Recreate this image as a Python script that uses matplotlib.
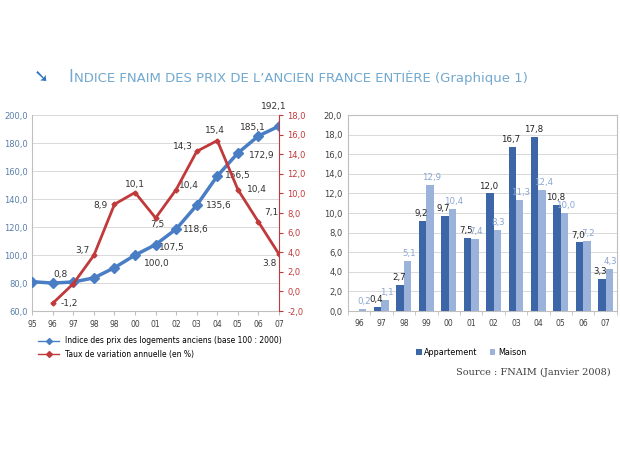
import matplotlib.pyplot as plt
import numpy as np

# Données
annees_g = ["95", "96", "97", "98", "98", "00", "01", "02", "03", "04", "05", "06", "07"]
indice = [81.0, 80.0, 80.8, 83.7, 91.0, 100.0, 107.5, 118.6, 135.6, 156.5, 172.9, 185.1, 192.1]
taux = [None, -1.2, 0.8, 3.7, 8.9, 10.1, 7.5, 10.4, 14.3, 15.4, 10.4, 7.1, 3.8]
taux_lbl = ["", "-1,2", "0,8", "3,7", "8,9", "10,1", "7,5", "10,4", "14,3", "15,4", "10,4", "7,1", "3.8"]

annees_d = ["96", "97", "98", "99", "00", "01", "02", "03", "04", "05", "06", "07"]
appart = [0.0, 0.4, 2.7, 9.2, 9.7, 7.5, 12.0, 16.7, 17.8, 10.8, 7.0, 3.3]
maison = [0.2, 1.1, 5.1, 12.9, 10.4, 7.4, 8.3, 11.3, 12.4, 10.0, 7.2, 4.3]

BLEU = "#4A7EC4"
ROUGE = "#C0393B"
FONCE = "#3D66A8"
CLAIR = "#9BB3DA"
GRIS = "#BFBFBF"

fig = plt.figure(figsize=(6.2, 4.65), dpi=100)
fig.patch.set_facecolor("white")

# Titre
fig.text(0.055, 0.835, "\u2798", fontsize=13, color="#2F74C0", fontweight="bold",
         ha="left", va="center")
fig.text(0.11, 0.835, "I", fontsize=12, color="#72A9CF", ha="left", va="center")
fig.text(0.119, 0.833, "NDICE FNAIM DES PRIX DE L\u2019ANCIEN FRANCE ENTI\u00c8RE (Graphique 1)",
         fontsize=9.5, color="#72A9CF", ha="left", va="center")

# ---- Graphique de gauche ----
ax1 = fig.add_axes([0.052, 0.331, 0.398, 0.4215])
x = np.arange(len(annees_g))
ax1.plot(x, indice, color=BLEU, lw=2.5, marker="D", ms=5, zorder=3)
ax1.set_xlim(0, 12)
ax1.set_ylim(60, 200)
ax1.set_yticks(np.arange(60, 201, 20))
ax1.set_yticklabels([f"{v:.1f}".replace(".", ",") for v in range(60, 201, 20)])
ax1.tick_params(axis="y", labelsize=6, colors="#5A7FA8", length=0, pad=3)
ax1.set_xticks(x)
ax1.set_xticklabels(annees_g)
ax1.tick_params(axis="x", labelsize=5.5, colors="#404040", length=3, color=GRIS)
ax1.grid(axis="y", color="#D9D9D9", lw=0.7)
for s in ["top", "right"]:
    ax1.spines[s].set_visible(False)
ax1.spines["left"].set_color(GRIS)
ax1.spines["bottom"].set_color(GRIS)

# décalages des étiquettes (points)
off_b = {5: (16, -6), 6: (12, -2), 7: (14, 0), 8: (16, 0), 9: (15, 0),
         10: (17, -2), 11: (-4, 6), 12: (-4, 14)}
for i, (dx, dy) in off_b.items():
    ax1.annotate(f"{indice[i]:.1f}".replace(".", ","), (x[i], indice[i]),
                 xytext=(dx, dy), textcoords="offset points", fontsize=6.5,
                 color="#333333", ha="center", va="center", zorder=2)

ax2 = ax1.twinx()
xr = x[1:]
ax2.plot(xr, taux[1:], color=ROUGE, lw=2, marker="D", ms=2.5, zorder=4)
ax2.set_ylim(-2, 18)
ax2.set_yticks(np.arange(-2, 19, 2))
ax2.set_yticklabels([f"{v:.1f}".replace(".", ",") for v in range(-2, 19, 2)])
ax2.tick_params(axis="y", labelsize=6, colors=ROUGE, length=3, color=ROUGE, pad=3)
for s in ["top", "left", "bottom"]:
    ax2.spines[s].set_visible(False)
ax2.spines["right"].set_color(ROUGE)

off_r = {1: (12, 0), 2: (-9, 6.5), 3: (-8, 3.5), 4: (-10, -1), 5: (0, 6), 6: (1, -5),
         7: (9, 3), 8: (-10, 3.5), 9: (-2, 7), 10: (14, 0), 11: (9, 6.5), 12: (-7, -6.5)}
for i, (dx, dy) in off_r.items():
    ax2.annotate(taux_lbl[i], (x[i], taux[i]), xytext=(dx, dy),
                 textcoords="offset points", fontsize=6.5, color="#333333",
                 ha="center", va="center")

h1 = plt.Line2D([], [], color=BLEU, lw=1, marker="D", ms=3)
h2 = plt.Line2D([], [], color=ROUGE, lw=1, marker="D", ms=3)
fig.legend([h1, h2], ["Indice des prix des logements anciens (base 100 : 2000)",
                      "Taux de variation annuelle (en %)"],
           loc="upper left", bbox_to_anchor=(0.055, 0.285), frameon=False,
           fontsize=5.5, handlelength=2.8, labelspacing=0.6, borderpad=0)

# ---- Graphique de droite ----
ax3 = fig.add_axes([0.561, 0.331, 0.434, 0.4215])
xd = np.arange(len(annees_d))
w = 0.33
b1 = ax3.bar(xd - w / 2, appart, w, color=FONCE, zorder=3, label="Appartement")
b2 = ax3.bar(xd + w / 2, maison, w, color=CLAIR, zorder=3, label="Maison")
ax3.set_xlim(-0.5, 11.5)
ax3.set_ylim(0, 20)
ax3.set_yticks(np.arange(0, 21, 2))
ax3.set_yticklabels([f"{v:.1f}".replace(".", ",") for v in range(0, 21, 2)])
ax3.tick_params(axis="y", labelsize=6, colors="#404040", length=0, pad=4)
ax3.set_xticks(xd)
ax3.set_xticklabels(annees_d)
ax3.tick_params(axis="x", labelsize=5.5, colors="#404040", length=0, pad=6)
ax3.set_xticks(np.arange(-0.5, 12, 1), minor=True)
ax3.tick_params(axis="x", which="minor", length=3, color=GRIS)
ax3.grid(axis="y", color="#D9D9D9", lw=0.7, zorder=0)
for s in ax3.spines.values():
    s.set_color(GRIS)

for i in range(len(annees_d)):
    if appart[i] > 0:
        ax3.text(xd[i] - w / 2 - 0.06, appart[i] + 0.3, f"{appart[i]:.1f}".replace(".", ","),
                 fontsize=6.2, color="#222222", ha="center", va="bottom", zorder=5)
    ax3.text(xd[i] + w / 2 + 0.06, maison[i] + 0.3, f"{maison[i]:.1f}".replace(".", ","),
             fontsize=6.2, color="#8AA6D2", ha="center", va="bottom", zorder=5)

fig.legend([b1, b2], ["Appartement", "Maison"], loc="center",
           bbox_to_anchor=(0.76, 0.243), ncol=2, frameon=False, fontsize=5.8,
           handlelength=0.7, handleheight=0.7, columnspacing=1.5, handletextpad=0.3)

fig.text(0.985, 0.198, "Source : FNAIM (Janvier 2008)", fontsize=7, family="serif",
         color="#404040", ha="right", va="center")

plt.savefig("out.png", dpi=100)
